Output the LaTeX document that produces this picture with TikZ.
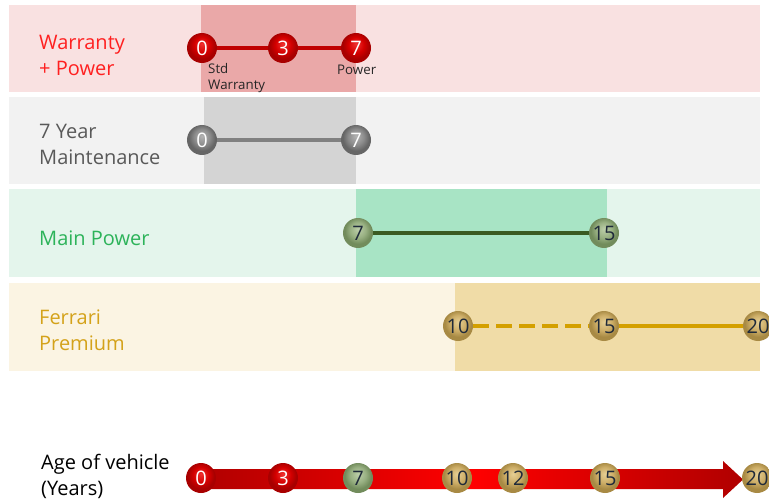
\documentclass[tikz,border=0pt]{standalone}
\usepackage{fontspec}
\setmainfont{Open Sans}
\definecolor{bandAl}{HTML}{F9E1E1}
\definecolor{bandAd}{HTML}{EAA8A8}
\definecolor{bandBl}{HTML}{F2F2F2}
\definecolor{bandBd}{HTML}{D4D4D4}
\definecolor{bandCl}{HTML}{E4F5EC}
\definecolor{bandCd}{HTML}{A8E4C5}
\definecolor{bandDl}{HTML}{FBF4E3}
\definecolor{bandDd}{HTML}{F0DCA7}
\definecolor{txtred}{HTML}{FF2020}
\definecolor{txtgray}{HTML}{595959}
\definecolor{txtgreen}{HTML}{2DB35A}
\definecolor{txtgold}{HTML}{D4A21A}
\definecolor{numdark}{HTML}{1F2A3A}
\definecolor{linered}{HTML}{C00000}
\definecolor{linegray}{HTML}{808080}
\definecolor{linegreen}{HTML}{3A5A22}
\definecolor{linegold}{HTML}{D4A000}
\definecolor{arrdark}{HTML}{B00000}
\definecolor{arrbright}{HTML}{FF0000}
% ball colours: highlight, base, edge
\definecolor{rhi}{HTML}{F03030}\definecolor{rbase}{HTML}{D40000}\definecolor{redge}{HTML}{A80000}
\definecolor{ghi}{HTML}{B4B4B4}\definecolor{gbase}{HTML}{8C8C8C}\definecolor{gedge}{HTML}{666666}
\definecolor{nhi}{HTML}{BDCFAA}\definecolor{nbase}{HTML}{98B082}\definecolor{nedge}{HTML}{728C5C}
\definecolor{ohi}{HTML}{E6CF94}\definecolor{obase}{HTML}{CDAE68}\definecolor{oedge}{HTML}{A88A44}
\colorlet{bhi}{white}
\colorlet{bbase}{gray}
\colorlet{bedge}{black}
\pgfdeclareradialshading[bhi,bbase,bedge]{myball}{\pgfqpoint{0bp}{7bp}}{%
  color(0bp)=(bhi); color(13bp)=(bbase); color(22bp)=(bedge); color(25bp)=(bedge); color(50bp)=(bedge)}
\tikzset{
  x=1pt, y=-1pt,
  ballcols/.code n args={3}{\colorlet{bhi}{#1}\colorlet{bbase}{#2}\colorlet{bedge}{#3}},
  yr/.style={circle, inner sep=0pt, minimum size=30pt, shading=myball, font=\fontsize{20}{20}\selectfont},
  redball/.style={yr, ballcols={rhi}{rbase}{redge}, text=white},
  grayball/.style={yr, ballcols={ghi}{gbase}{gedge}, text=white},
  greenball/.style={yr, ballcols={nhi}{nbase}{nedge}, text=numdark},
  goldball/.style={yr, ballcols={ohi}{obase}{oedge}, text=numdark},
  rowlabel/.style={anchor=west, align=left, inner sep=0pt, font=\fontsize{20}{26}\selectfont},
  small/.style={anchor=west, align=left, inner sep=0pt, font=\fontsize{13.3}{16}\selectfont, text=black!85},
  conn/.style={line width=4.5pt},
}
\begin{document}
\begin{tikzpicture}
\useasboundingbox (0,0) rectangle (769,500);
% bands
\fill[bandAl] (9,5) rectangle (760,92);
\fill[bandAd] (201,5) rectangle (356,92);
\fill[bandBl] (9,97) rectangle (760,184);
\fill[bandBd] (204,97) rectangle (356,184);
\fill[bandCl] (9,189) rectangle (760,277);
\fill[bandCd] (356,189) rectangle (607,277);
\fill[bandDl] (9,283) rectangle (760,371);
\fill[bandDd] (455,283) rectangle (760,371);

% labels
\node[rowlabel, text=txtred] (l1) at (39,55) {Warranty\\+ Power};
\node[rowlabel, text=txtgray] (l2) at (39,144) {7 Year\\Maintenance};
\node[rowlabel, text=txtgreen] (l3) at (39,238) {Main Power};
\node[rowlabel, text=txtgold] (l4) at (39,330) {Ferrari\\Premium};
\node[rowlabel, text=black] (l5) at (41,476) {Age of vehicle\\(Years)};

% row 1
\node[redball] (a0) at (202,48) {0};
\node[redball] (a3) at (283,48) {3};
\node[redball] (a7) at (356,48) {7};
\draw[linered, line width=4pt] (a0) -- (a3);
\draw[linered, line width=4pt] (a3) -- (a7);
\node[small] (std) at (208,78) {Std\\Warranty};
\node[small] (pw) at (337,70) {Power};

% row 2
\node[grayball] (b0) at (202,140) {0};
\node[grayball] (b7) at (356,140) {7};
\draw[conn, linegray] (b0) -- (b7);

% row 3
\node[greenball] (c7) at (358,233) {7};
\node[greenball] (c15) at (604,233) {15};
\draw[conn, linegreen] (c7) -- (c15);

% row 4
\node[goldball] (d10) at (458,326) {10};
\node[goldball] (d15) at (604,326) {15};
\node[goldball] (d20) at (758,326) {20};
\draw[conn, linegold, dash pattern=on 16pt off 7pt] (d10) -- (d15);
\draw[conn, linegold] (d15) -- (d20);

% bottom arrow
\shade[left color=arrdark, right color=arrdark, middle color=arrbright]
  (200,469) -- (723,469) -- (723,461) -- (743,479.5) -- (723,498) -- (723,489) -- (200,489) -- cycle;
\node[redball] (e0) at (201,478) {0};
\node[redball] (e3) at (283,478) {3};
\node[greenball] (e7) at (358,478) {7};
\node[goldball] (e10) at (457,478) {10};
\node[goldball] (e12) at (513,478) {12};
\node[goldball] (e15) at (605,478) {15};
\node[goldball] (e20) at (757,478) {20};
\end{tikzpicture}
\end{document}
